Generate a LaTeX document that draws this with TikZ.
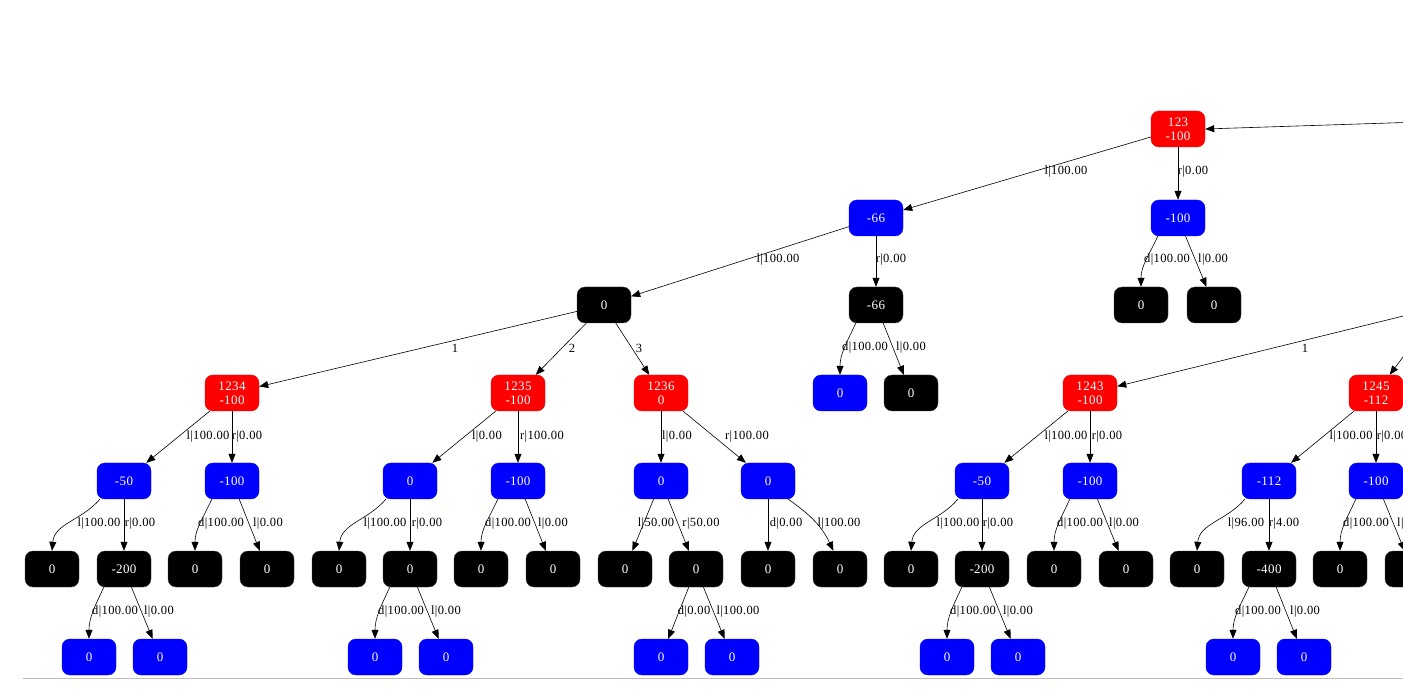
\documentclass[tikz,border=0pt]{standalone}
\usepackage{fontspec}
\setmainfont{Liberation Serif}
\newfontfamily\gvfont[LetterSpace=3]{Liberation Serif}
\usetikzlibrary{arrows.meta}
\definecolor{gvred}{RGB}{255,0,0}
\definecolor{gvblue}{RGB}{0,0,255}
\definecolor{gvgray}{RGB}{190,190,190}
\begin{document}
\begin{tikzpicture}[x=1pt,y=1pt,
 gn/.style={rounded corners=8pt, minimum width=54pt, minimum height=36pt, inner sep=0pt, text=white, align=center, font=\gvfont\fontsize{13}{14}\selectfont},
 rn/.style={gn, fill=gvred, draw=gvred},
 bn/.style={gn, fill=gvblue, draw=gvblue},
 kn/.style={gn, fill=black, draw=black!75},
 e/.style={draw=black, line width=0.6pt, -{Triangle[length=9pt,width=7pt]}},
 lb/.style={font=\gvfont\fontsize{12.5}{14}\selectfont, inner sep=0pt, text=black}]
\useasboundingbox (0,0) rectangle (1403,694);
\clip (0,0) rectangle (1403,694);
\draw[gvgray, line width=0.8pt] (23,16) -- (1403,16);
% row 1
\node[rn] (n123) at (1178,565) {123\\-100};
% row 2
\node[bn] (m66) at (876,476) {-66};
\node[bn] (b100) at (1178,476) {-100};
% row 3
\node[kn] (c0) at (604,389) {0};
\node[kn] (k66) at (876,389) {-66};
\node[kn] (a1) at (1141,389) {0};
\node[kn] (a2) at (1214,389) {0};
% row 4
\node[rn] (r1234) at (232,301) {1234\\-100};
\node[rn] (r1235) at (518,301) {1235\\-100};
\node[rn] (r1236) at (661,301) {1236\\0};
\node[bn] (b66a) at (840,301) {0};
\node[kn] (k66b) at (911,301) {0};
\node[rn] (r1243) at (1090,301) {1243\\-100};
\node[rn] (r1245) at (1376,301) {1245\\-112};
% row 5
\node[bn] (p1) at (124,213) {-50};
\node[bn] (p2) at (232,213) {-100};
\node[bn] (p3) at (410,213) {0};
\node[bn] (p4) at (518,213) {-100};
\node[bn] (p5) at (661,213) {0};
\node[bn] (p6) at (768,213) {0};
\node[bn] (p7) at (982,213) {-50};
\node[bn] (p8) at (1090,213) {-100};
\node[bn] (p9) at (1269,213) {-112};
\node[bn] (p10) at (1376,213) {-100};
% row 6
\node[kn] (q1) at (52,125) {0};
\node[kn] (q2) at (124,125) {-200};
\node[kn] (q3) at (195,125) {0};
\node[kn] (q4) at (267,125) {0};
\node[kn] (q5) at (339,125) {0};
\node[kn] (q6) at (410,125) {0};
\node[kn] (q7) at (481,125) {0};
\node[kn] (q8) at (553,125) {0};
\node[kn] (q9) at (625,125) {0};
\node[kn] (q10) at (696,125) {0};
\node[kn] (q11) at (768,125) {0};
\node[kn] (q12) at (840,125) {0};
\node[kn] (q13) at (911,125) {0};
\node[kn] (q14) at (982,125) {-200};
\node[kn] (q15) at (1054,125) {0};
\node[kn] (q16) at (1126,125) {0};
\node[kn] (q17) at (1197,125) {0};
\node[kn] (q18) at (1269,125) {-400};
\node[kn] (q19) at (1340,125) {0};
\node[kn] (q20) at (1412,125) {0};
% row 7
\node[bn] (s1) at (89,37) {0};
\node[bn] (s2) at (160,37) {0};
\node[bn] (s3) at (375,37) {0};
\node[bn] (s4) at (446,37) {0};
\node[bn] (s5) at (661,37) {0};
\node[bn] (s6) at (732,37) {0};
\node[bn] (s7) at (947,37) {0};
\node[bn] (s8) at (1018,37) {0};
\node[bn] (s9) at (1233,37) {0};
\node[bn] (s10) at (1304,37) {0};
% outside coordinates
\coordinate (x1) at (1420,572);
\coordinate (x2) at (1440,387);
\coordinate (x3) at (1412,349);
% edges
\draw[e] (x1) -- (n123.east);
\draw[e] (x2) -- (r1243);
\draw[e] (x3) -- (r1245);
\draw[e] (n123) -- (m66);
\draw[e] (n123) -- (b100);
\draw[e] (b100.-138) to[out=-115,in=90] (a1.north);
\draw[e] (b100) -- (a2);
\draw[e] (m66) -- (c0);
\draw[e] (m66) -- (k66);
\draw[e] (k66.-138) to[out=-115,in=90] (b66a.north);
\draw[e] (k66) -- (k66b);
\draw[e] (c0) -- (r1234);
\draw[e] (c0) -- (r1235);
\draw[e] (c0) -- (r1236);
\draw[e] (r1234) -- (p1);
\draw[e] (r1234) -- (p2);
\draw[e] (r1235) -- (p3);
\draw[e] (r1235) -- (p4);
\draw[e] (r1236) -- (p5);
\draw[e] (r1236) -- (p6);
\draw[e] (r1243) -- (p7);
\draw[e] (r1243) -- (p8);
\draw[e] (r1245) -- (p9);
\draw[e] (r1245) -- (p10);
\draw[e] (p1.-143) to[out=-130,in=85] (q1.north);
\draw[e] (p1) -- (q2);
\draw[e] (p2.-138) to[out=-115,in=90] (q3.north);
\draw[e] (p2) -- (q4);
\draw[e] (p3.-143) to[out=-130,in=85] (q5.north);
\draw[e] (p3) -- (q6);
\draw[e] (p4.-138) to[out=-115,in=90] (q7.north);
\draw[e] (p4) -- (q8);
\draw[e] (p5) -- (q9);
\draw[e] (p5) -- (q10);
\draw[e] (p6) -- (q11);
\draw[e] (p6.-42) to[out=-35,in=115] (q12.110);
\draw[e] (p7.-143) to[out=-130,in=85] (q13.north);
\draw[e] (p7) -- (q14);
\draw[e] (p8.-138) to[out=-115,in=90] (q15.north);
\draw[e] (p8) -- (q16);
\draw[e] (p9.-143) to[out=-130,in=85] (q17.north);
\draw[e] (p9) -- (q18);
\draw[e] (p10.-138) to[out=-115,in=90] (q19.north);
\draw[e] (p10) -- (q20);
\draw[e] (q2.-138) to[out=-115,in=90] (s1.north);
\draw[e] (q2) -- (s2);
\draw[e] (q6.-138) to[out=-115,in=90] (s3.north);
\draw[e] (q6) -- (s4);
\draw[e] (q10) -- (s5);
\draw[e] (q10) -- (s6);
\draw[e] (q14.-138) to[out=-115,in=90] (s7.north);
\draw[e] (q14) -- (s8);
\draw[e] (q18.-138) to[out=-115,in=90] (s9.north);
\draw[e] (q18) -- (s10);
% labels row 522
\node[lb] (l1) at (1066,522) {l|100.00};
\node[lb] (l2) at (1193,522) {r|0.00};
% row 434
\node[lb] (l3) at (778,434) {l|100.00};
\node[lb] (l4) at (891,434) {r|0.00};
\node[lb] (l5) at (1167,434) {d|100.00};
\node[lb] (l6) at (1213,434) {l|0.00};
% row 346
\node[lb] (l7) at (455,346) {1};
\node[lb] (l8) at (572,346) {2};
\node[lb] (l9) at (639,346) {3};
\node[lb] (l10) at (865,346) {d|100.00};
\node[lb] (l11) at (911,346) {l|0.00};
\node[lb] (l12) at (1305,346) {1};
% row 257
\node[lb] (l13) at (208,257) {l|100.00};
\node[lb] (l14) at (247,257) {r|0.00};
\node[lb] (l15) at (487,257) {l|0.00};
\node[lb] (l16) at (542,257) {r|100.00};
\node[lb] (l17) at (677,257) {l|0.00};
\node[lb] (l18) at (747,257) {r|100.00};
\node[lb] (l19) at (1066,257) {l|100.00};
\node[lb] (l20) at (1107,257) {r|0.00};
\node[lb] (l21) at (1351,257) {l|100.00};
\node[lb] (l22) at (1392,257) {r|0.00};
% row 170
\node[lb] (l23) at (99,170) {l|100.00};
\node[lb] (l24) at (140,170) {r|0.00};
\node[lb] (l25) at (221,170) {d|100.00};
\node[lb] (l26) at (268,170) {l|0.00};
\node[lb] (l27) at (385,170) {l|100.00};
\node[lb] (l28) at (427,170) {r|0.00};
\node[lb] (l29) at (508,170) {d|100.00};
\node[lb] (l30) at (553,170) {l|0.00};
\node[lb] (l31) at (656,170) {l|50.00};
\node[lb] (l32) at (701,170) {r|50.00};
\node[lb] (l33) at (786,170) {d|0.00};
\node[lb] (l34) at (839,170) {l|100.00};
\node[lb] (l35) at (958,170) {l|100.00};
\node[lb] (l36) at (998,170) {r|0.00};
\node[lb] (l37) at (1080,170) {d|100.00};
\node[lb] (l38) at (1124,170) {l|0.00};
\node[lb] (l39) at (1246,170) {l|96.00};
\node[lb] (l40) at (1284,170) {r|4.00};
\node[lb] (l41) at (1366,170) {d|100.00};
\node[lb] (l42) at (1412,170) {l|0.00};
% row 82
\node[lb] (l43) at (115,82) {d|100.00};
\node[lb] (l44) at (159,82) {l|0.00};
\node[lb] (l45) at (401,82) {d|100.00};
\node[lb] (l46) at (446,82) {l|0.00};
\node[lb] (l47) at (694,82) {d|0.00};
\node[lb] (l48) at (738,82) {l|100.00};
\node[lb] (l49) at (973,82) {d|100.00};
\node[lb] (l50) at (1018,82) {l|0.00};
\node[lb] (l51) at (1258,82) {d|100.00};
\node[lb] (l52) at (1305,82) {l|0.00};
\end{tikzpicture}
\end{document}
